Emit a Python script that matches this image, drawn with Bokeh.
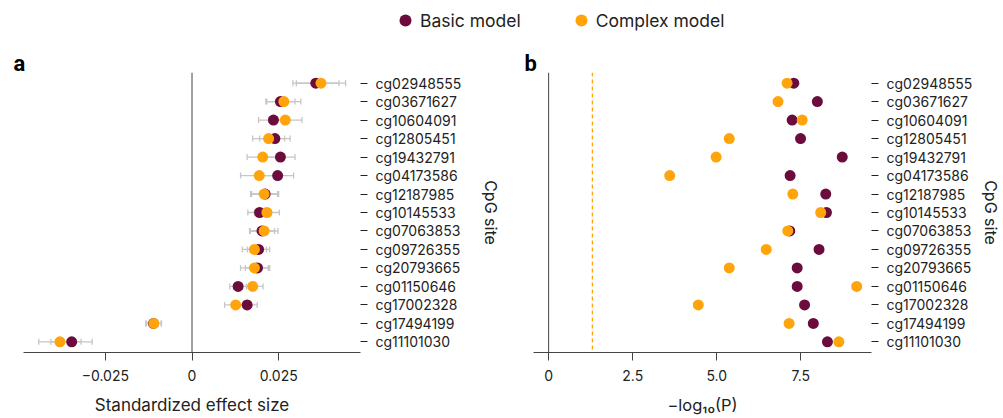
from bokeh.plotting import figure
from bokeh.models import (ColumnDataSource, FactorRange, Range1d, Span, Whisker, TeeHead,
                          FixedTicker, Legend, LegendItem)
from bokeh.layouts import column, row
from bokeh.embed import file_html
from bokeh.resources import INLINE

sites = ["cg02948555", "cg03671627", "cg10604091", "cg12805451", "cg19432791",
         "cg04173586", "cg12187985", "cg10145533", "cg07063853", "cg09726355",
         "cg20793665", "cg01150646", "cg17002328", "cg17494199", "cg11101030"]

# panel a: standardized effect size with confidence intervals
a_basic = [0.0357, 0.0255, 0.0235, 0.0239, 0.0255, 0.0247, 0.0211, 0.0195, 0.0202,
           0.0192, 0.0189, 0.0133, 0.0159, -0.0111, -0.0347]
a_basic_lo = [0.0291, 0.0213, 0.0192, 0.0195, 0.0213, 0.0201, 0.0172, 0.0161, 0.0166,
              0.0160, 0.0154, 0.0109, 0.0130, -0.0133, -0.0407]
a_basic_hi = [0.0424, 0.0297, 0.0278, 0.0283, 0.0297, 0.0293, 0.0250, 0.0229, 0.0238,
              0.0224, 0.0224, 0.0157, 0.0188, -0.0089, -0.0288]
a_complex = [0.0372, 0.0265, 0.0269, 0.0221, 0.0204, 0.0194, 0.0208, 0.0216, 0.0208,
             0.0180, 0.0180, 0.0175, 0.0126, -0.0110, -0.0381]
a_complex_lo = [0.0301, 0.0216, 0.0221, 0.0175, 0.0159, 0.0140, 0.0169, 0.0180, 0.0168,
                0.0145, 0.0140, 0.0145, 0.0094, -0.0132, -0.0442]
a_complex_hi = [0.0443, 0.0314, 0.0317, 0.0267, 0.0249, 0.0248, 0.0247, 0.0252, 0.0248,
                0.0215, 0.0220, 0.0205, 0.0158, -0.0088, -0.0320]

# panel b: -log10(P)
b_basic = [7.29, 7.99, 7.24, 7.49, 8.73, 7.18, 8.24, 8.26, 7.17, 8.04, 7.39, 7.39,
           7.61, 7.87, 8.29]
b_complex = [7.09, 6.82, 7.54, 5.37, 4.98, 3.60, 7.26, 8.09, 7.11, 6.47, 5.37, 9.16,
             4.45, 7.15, 8.63]

threshold = 1.301  # -log10(0.05)

a_ticks = [-0.025, 0, 0.025]
a_tick_labels = {-0.025: "\u22120.025", 0: "0", 0.025: "0.025"}
b_ticks = [0, 2.5, 5, 7.5]
b_tick_labels = {0: "0", 2.5: "2.5", 5: "5.0", 7.5: "7.5"}

BASIC = "#6b0c3c"
COMPLEX = "#ffa40a"
ERR = "#c6c6c6"
FONT = "Inter"
TXT = "#222222"

src = ColumnDataSource(dict(site=sites, a_basic=a_basic, a_basic_lo=a_basic_lo,
                            a_basic_hi=a_basic_hi, a_complex=a_complex,
                            a_complex_lo=a_complex_lo, a_complex_hi=a_complex_hi,
                            b_basic=b_basic, b_complex=b_complex))


def style(p, ticks, labels, xlabel, xlabel_size):
    p.grid.grid_line_color = None
    p.outline_line_color = None
    p.xaxis.ticker = FixedTicker(ticks=ticks)
    p.xaxis.major_label_overrides = labels
    p.xaxis.minor_tick_line_color = None
    p.xaxis.major_tick_in = 0
    p.xaxis.major_tick_out = 8
    p.xaxis.axis_line_color = "#444444"
    p.xaxis.major_tick_line_color = "#444444"
    p.xaxis.major_label_text_font = FONT
    p.xaxis.major_label_text_font_size = "14px"
    p.xaxis.major_label_text_color = TXT
    p.xaxis.major_label_standoff = 9
    p.xaxis.axis_label = xlabel
    p.xaxis.axis_label_text_font = FONT
    p.xaxis.axis_label_text_font_size = xlabel_size
    p.xaxis.axis_label_text_font_style = "normal"
    p.xaxis.axis_label_text_color = TXT
    p.xaxis.axis_label_standoff = 11
    p.yaxis.axis_line_color = None
    p.yaxis.major_tick_in = 0
    p.yaxis.major_tick_out = 7
    p.yaxis.major_tick_line_color = TXT
    p.yaxis.major_label_text_font = FONT
    p.yaxis.major_label_text_font_size = "14px"
    p.yaxis.major_label_text_color = TXT
    p.yaxis.major_label_standoff = 8
    p.yaxis.axis_label = "CpG site"
    p.yaxis.axis_label_text_font = FONT
    p.yaxis.axis_label_text_font_size = "16px"
    p.yaxis.axis_label_text_font_style = "normal"
    p.yaxis.axis_label_text_color = TXT
    p.title.text_font = "Roboto"
    p.title.text_font_size = "22px"
    p.title.text_font_style = "bold"
    p.title.text_color = "#000000"
    p.title.align = "left"
    p.title.standoff = -7


# ---- panel a ----
pa = figure(frame_width=337, frame_height=280, min_border_left=23, min_border_right=146,
            min_border_top=34, min_border_bottom=60,
            x_range=Range1d(-0.0486, 0.0486),
            y_range=FactorRange(factors=sites[::-1], range_padding=0.01),
            y_axis_location="right", toolbar_location=None, output_backend="svg",
            title="a")
style(pa, a_ticks, a_tick_labels, "Standardized effect size", "17px")
pa.title.offset = -10
pa.yaxis.axis_label_standoff = 17
pa.add_layout(Span(location=0, dimension="height", line_color="#444444", line_width=1))
pa.scatter(x="a_basic", y="site", source=src, size=11, color=BASIC, line_color=None)
pa.scatter(x="a_complex", y="site", source=src, size=11, color=COMPLEX, line_color=None)
for lo, hi in (("a_basic_lo", "a_basic_hi"), ("a_complex_lo", "a_complex_hi")):
    pa.add_layout(Whisker(source=src, base="site", lower=lo, upper=hi, dimension="width",
                          line_color=ERR, line_width=1.3,
                          lower_head=TeeHead(size=6, line_color=ERR, line_width=1.3),
                          upper_head=TeeHead(size=6, line_color=ERR, line_width=1.3)))

# ---- panel b ----
pb = figure(frame_width=338, frame_height=280, min_border_left=27, min_border_right=129,
            min_border_top=34, min_border_bottom=60,
            x_range=Range1d(-0.45, 9.6),
            y_range=FactorRange(factors=sites[::-1], range_padding=0.01),
            y_axis_location="right", toolbar_location=None, output_backend="svg",
            title="b")
style(pb, b_ticks, b_tick_labels, "\u2212log\u2081\u2080(P)", "16.5px")
pb.title.offset = -9
pb.yaxis.axis_label_standoff = 6
pb.add_layout(Span(location=0, dimension="height", line_color="#444444", line_width=1))
pb.add_layout(Span(location=threshold, dimension="height", line_color=COMPLEX,
                   line_width=1.3, line_dash="4 3"))
pb.scatter(x="b_basic", y="site", source=src, size=11, color=BASIC, line_color=None)
pb.scatter(x="b_complex", y="site", source=src, size=11, color=COMPLEX, line_color=None)

# ---- legend strip (legend renderers reuse the data, kept outside the visible range) ----
pl = figure(width=1000, height=38, min_border=0, toolbar_location=None,
            output_backend="svg", x_range=(0, 1), y_range=(0, 1))
pl.axis.visible = False
pl.grid.grid_line_color = None
pl.outline_line_color = None
r1 = pl.scatter(x="b_basic", y="b_basic", source=src, size=12, color=BASIC, line_color=None)
r2 = pl.scatter(x="b_complex", y="b_complex", source=src, size=12, color=COMPLEX,
                line_color=None)
leg = Legend(items=[LegendItem(label="Basic model", renderers=[r1], index=0),
                    LegendItem(label="Complex model", renderers=[r2], index=0)],
             orientation="horizontal", location=(390, 3), padding=0, margin=0,
             spacing=45, glyph_width=30, glyph_height=30, label_standoff=0,
             label_text_font=FONT, label_text_font_size="17.5px", label_text_color=TXT,
             border_line_color=None, background_fill_alpha=0)
pl.add_layout(leg)

layout = column(pl, row(pa, pb, spacing=0), spacing=0)
open("out.html", "w").write(file_html(layout, INLINE))
